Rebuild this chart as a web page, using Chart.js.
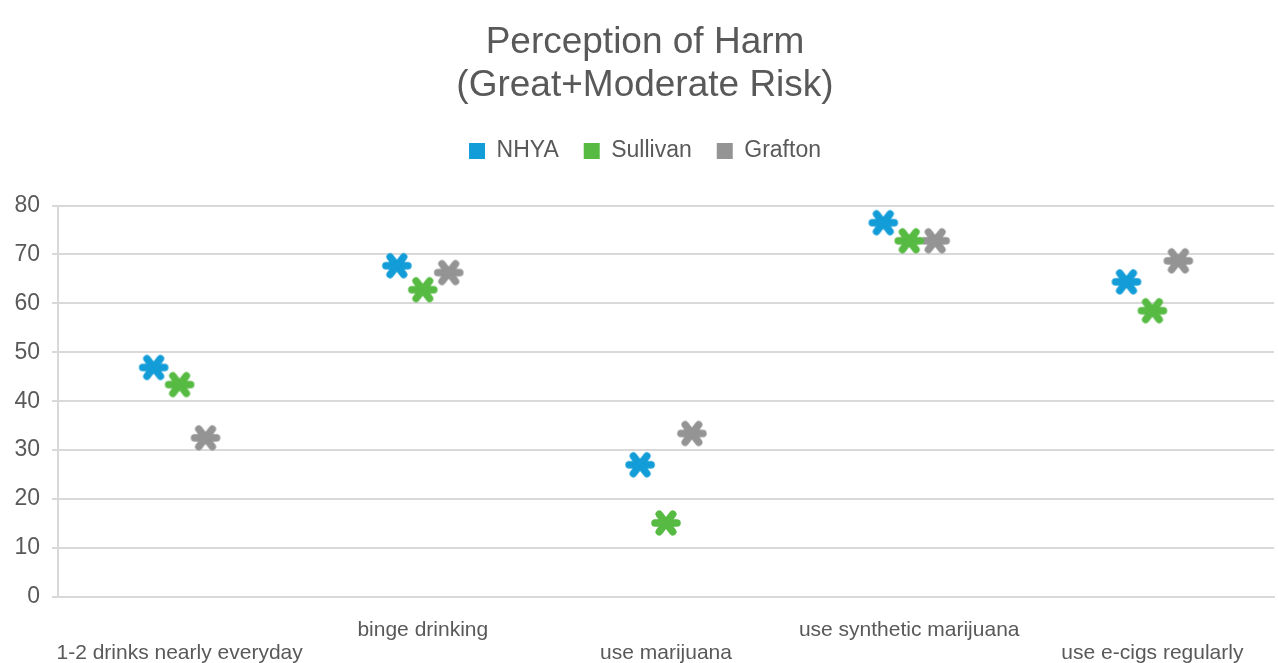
<!DOCTYPE html>
<html>
<head>
<meta charset="utf-8">
<script src="https://cdn.jsdelivr.net/npm/chart.js@4/dist/chart.umd.min.js"></script>
<style>
html,body{margin:0;padding:0;background:#fff;overflow:hidden;}
#wrap{width:1278px;height:663px;}
</style>
</head>
<body>
<div id="wrap"><canvas id="c" width="1278" height="663"></canvas></div>
<script>
const categories = ['1-2 drinks nearly everyday', 'binge drinking', 'use marijuana', 'use synthetic marijuana', 'use e-cigs regularly'];
const seriesNames = ['NHYA', 'Sullivan', 'Grafton'];
const nhya = [46.9, 67.7, 27.0, 76.5, 64.4];
const sullivan = [43.4, 62.8, 15.1, 72.8, 58.5];
const grafton = [32.5, 66.3, 33.4, 72.8, 68.7];
const yTicks = [0, 10, 20, 30, 40, 50, 60, 70, 80];

const colors = ['#139DD8', '#57BB43', '#949494'];
const textColor = '#595959';
const FONT = '"Liberation Sans", Arial, sans-serif';
const SPACING = 0.1066;

function makeStar(color) {
  const s = 36, c = document.createElement('canvas');
  c.width = s; c.height = s;
  const g = c.getContext('2d');
  g.strokeStyle = color; g.lineWidth = 7.5; g.lineCap = 'round';
  const r = 11, m = s / 2;
  const angles = [0, Math.PI * 0.29, Math.PI * 0.71];
  for (const a of angles) {
    g.beginPath();
    g.moveTo(m - r * Math.cos(a), m - r * Math.sin(a));
    g.lineTo(m + r * Math.cos(a), m + r * Math.sin(a));
    g.stroke();
  }
  return c;
}

const seriesValues = [nhya, sullivan, grafton];
const datasets = seriesNames.map((name, s) => ({
  label: name,
  data: categories.map((cat, i) => ({ x: i + (s - 1) * SPACING, y: seriesValues[s][i] })),
  backgroundColor: colors[s],
  borderColor: colors[s],
  borderWidth: 0,
  pointStyle: makeStar(colors[s]),
  showLine: false
}));

const legendGap = {
  id: 'legendGap',
  beforeInit(chart) {
    const fit = chart.legend.fit;
    chart.legend.fit = function () {
      fit.bind(chart.legend)();
      this.height += 33;
    };
  }
};

new Chart(document.getElementById('c'), {
  type: 'scatter',
  data: { datasets },
  plugins: [legendGap],
  options: {
    responsive: false,
    animation: false,
    layout: { padding: { left: 12, right: 0, top: 0, bottom: -24 } },
    plugins: {
      tooltip: { enabled: false },
      title: {
        display: true,
        text: ['Perception of Harm', '(Great+Moderate Risk)'],
        color: textColor,
        font: { family: FONT, size: 37, weight: 'normal', lineHeight: 1.17 },
        padding: { top: 21, bottom: 7 }
      },
      legend: {
        display: true,
        position: 'top',
        labels: {
          color: textColor,
          font: { family: FONT, size: 23 },
          boxWidth: 16,
          boxHeight: 16,
          padding: 25
        }
      }
    },
    scales: {
      x: {
        type: 'linear',
        min: -0.5,
        max: 4.5,
        afterBuildTicks: (scale) => { scale.ticks = categories.map((c, i) => ({ value: i })); },
        afterFit: (scale) => { scale.paddingLeft = 0; scale.paddingRight = 0; },
        grid: { display: false, drawTicks: false },
        border: { display: true, color: '#d9d9d9', width: 2 },
        ticks: {
          autoSkip: false,
          maxRotation: 0,
          minRotation: 0,
          padding: 22,
          color: textColor,
          font: { family: FONT, size: 21, lineHeight: 1.1 },
          callback: (v) => {
            const i = Math.round(v);
            const lbl = categories[i];
            return i % 2 === 0 ? ['', lbl] : [lbl, ''];
          }
        }
      },
      y: {
        min: 0,
        max: 80,
        afterBuildTicks: (scale) => { scale.ticks = yTicks.map(v => ({ value: v })); },
        afterFit: (scale) => { scale.width = 46; },
        grid: { color: '#d9d9d9', lineWidth: 2, tickLength: 6, drawTicks: true },
        border: { display: true, color: '#d9d9d9', width: 2 },
        ticks: {
          padding: 12,
          color: textColor,
          font: { family: FONT, size: 23 }
        }
      }
    }
  }
});
</script>
</body>
</html>
